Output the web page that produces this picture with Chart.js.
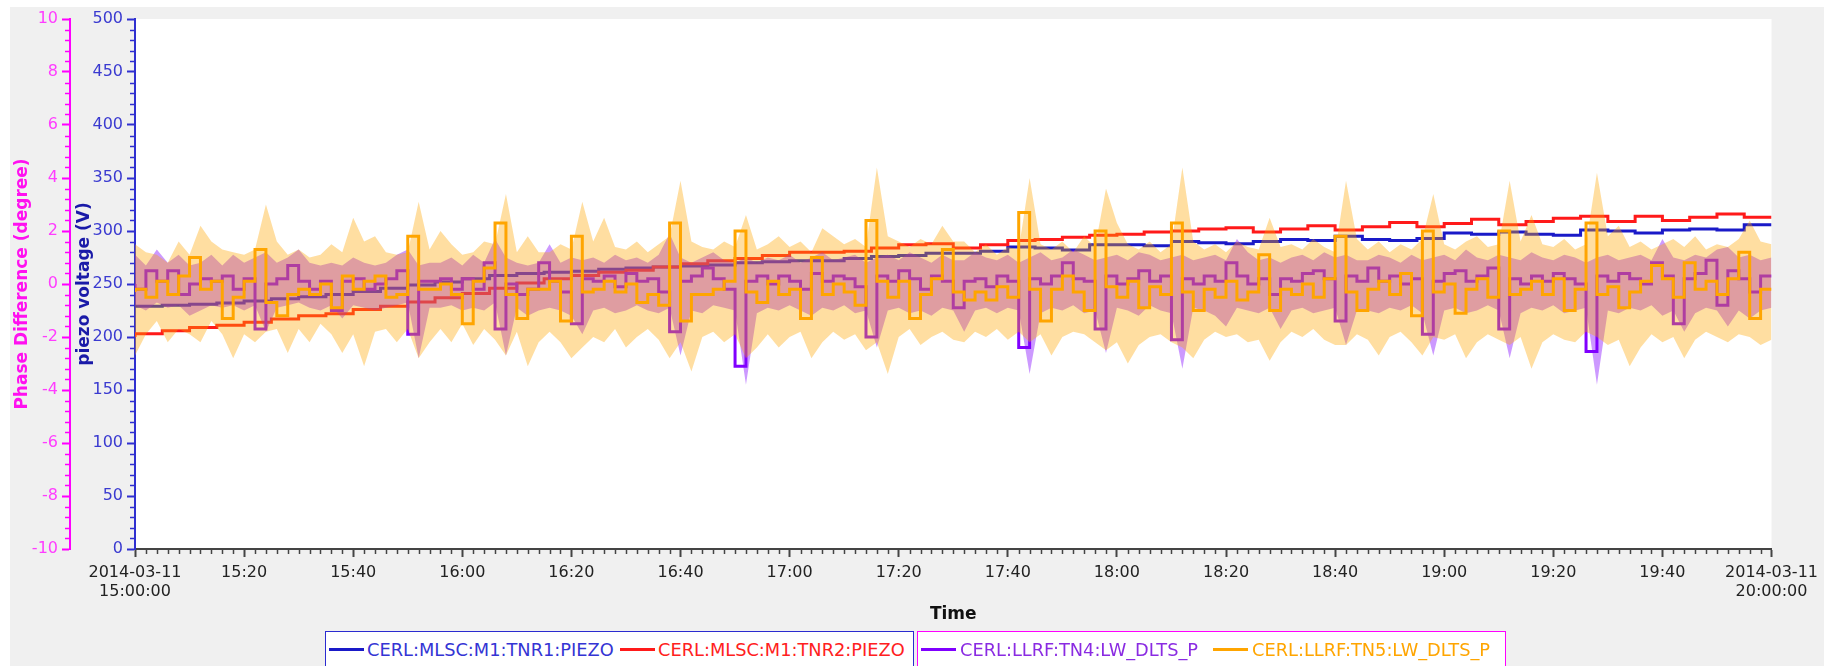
<!DOCTYPE html>
<html>
<head>
<meta charset="utf-8">
<script src="https://cdn.jsdelivr.net/npm/chart.js@4.4.1/dist/chart.umd.min.js"></script>
<style>
  html, body { margin: 0; padding: 0; background: #fff; }
  #wrap { position: relative; width: 1824px; height: 666px; overflow: hidden; }
  #chart { position: absolute; left: 0; top: 0; }
  .lbox { position: absolute; top: 631px; height: 44px; background: #fff; box-sizing: border-box; }
  .swatch { position: absolute; height: 3px; top: 648px; }
  .ltext { position: absolute; top: 639px; line-height: 20px; font: 17.8px 'DejaVu Sans', sans-serif; white-space: nowrap; }
</style>
</head>
<body>
<div id="wrap">
  <canvas id="chart" width="1824" height="666"></canvas>
</div>
<script>
// time axis: minutes after 2014-03-11 15:00:00
const timeTickValues = [0, 20, 40, 60, 80, 100, 120, 140, 160, 180, 200, 220, 240, 260, 280, 300];
const timeTickLabels = [['2014-03-11', '15:00:00'], '15:20', '15:40', '16:00', '16:20', '16:40', '17:00',
  '17:20', '17:40', '18:00', '18:20', '18:40', '19:00', '19:20', '19:40', ['2014-03-11', '20:00:00']];
const voltTicks = [0, 50, 100, 150, 200, 250, 300, 350, 400, 450, 500];
const phaseTicks = [-10, -8, -6, -4, -2, 0, 2, 4, 6, 8, 10];

const seriesNames = ['CERL:MLSC:M1:TNR1:PIEZO', 'CERL:MLSC:M1:TNR2:PIEZO', 'CERL:LLRF:TN4:LW_DLTS_P', 'CERL:LLRF:TN5:LW_DLTS_P'];

// piezo voltage (V), one sample every 5 min
const piezoStepMin = 5;
const tnr1Piezo = [229, 229, 230, 231, 232, 234, 236, 238, 240, 243, 246, 249, 252, 255, 258, 260, 261, 262, 264, 265,
  266, 267, 268, 270, 271, 272, 272, 274, 276, 277, 279, 279, 281, 285, 284, 282, 287, 287, 286, 290,
  289, 288, 290, 292, 291, 295, 292, 291, 293, 298, 297, 299, 297, 296, 301, 300, 298, 301, 302, 301, 306];
const tnr2Piezo = [200, 203, 206, 209, 211, 214, 217, 220, 222, 226, 229, 233, 237, 241, 246, 251, 255, 258, 261, 263,
  266, 269, 272, 274, 277, 280, 280, 281, 284, 287, 288, 284, 287, 291, 292, 294, 296, 297, 299, 300,
  302, 303, 299, 302, 305, 301, 304, 308, 304, 307, 311, 306, 309, 312, 314, 309, 314, 310, 313, 316, 313];

// phase difference (degree), one sample every 2 min: value, max, min
const phaseStepMin = 2;
const tn4Phase = [0.0, -0.2, 0.5, 0.1, 0.5, -0.4, 0.0, 0.2, 0.1, 0.3, -0.2, 0.2, -1.7, 0.0, 0.2, 0.7, 0.1, -0.2, 0.1, -1.0,
  0.1, 0.2, -0.2, 0.0, 0.2, 0.5, -1.9, 0.1, 0.1, 0.2, -0.2, 0.2, -0.2, 0.8, -1.7, 0.0, -0.4, -0.2,
  0.8, 0.1, -0.3, -1.5, 0.2, 0.1, 0.3, -0.1, 0.4, 0.1, 0.2, -0.3, -1.8, 0.1, 0.3, 0.6, 0.2, -0.2, -3.1, 0.1,
  0.3, 0.0, 0.3, 0.1, -0.2, 0.4, 0.1, 0.3, 0.2, -0.1, -2.0, 0.3, 0.1, 0.5, 0.2, -0.2, 0.3, 0.1,
  -0.9, 0.1, 0.2, -0.1, 0.3, 0.1, -2.4, 0.2, 0.0, 0.3, 0.8, 0.2, 0.1, -1.7, 0.3, 0.0, 0.2, 0.5, 0.1, 0.3,
  -2.1, 0.2, 0.0, 0.3, 0.1, 0.8, 0.3, 0.0, 0.2, -0.4, 0.2, 0.1, 0.4, 0.5, 0.2, -1.4, 0.3,
  0.1, 0.6, 0.1, 0.3, 0.0, 0.2, -1.9, 0.1, 0.4, 0.5, 0.1, 0.3, 0.6, -1.7, 0.2, 0.0, 0.3, 0.1, 0.4, 0.2,
  0.0, -2.55, 0.3, 0.1, 0.4, 0.2, 0.0, 0.8, 0.3, -1.5, 0.2, 0.4, 0.9, -0.8, 0.5, 0.2, -0.3, 0.3];
const tn4PhaseMax = [1.1, 0.7, 1.3, 0.8, 1.1, 0.7, 0.8, 1.1, 0.7, 1.1, 0.8, 1.0, 1.2, 0.8, 1.0, 1.3, 0.8, 0.7, 0.8, 0.7,
  1.0, 0.8, 0.7, 0.8, 1.1, 1.3, 0.7, 0.8, 0.8, 1.0, 0.7, 1.1, 0.8, 1.7, 1.0, 0.8, 0.7, 0.8,
  1.5, 0.8, 1.0, 0.9, 1.0, 0.8, 1.1, 0.9, 1.0, 0.8, 1.1, 1.9, 1.0, 0.8, 1.0, 1.2, 0.9, 0.8, 1.0, 0.8,
  1.0, 0.9, 1.1, 0.8, 1.0, 1.2, 0.9, 1.0, 1.1, 0.8, 1.0, 1.1, 0.9, 1.2, 1.0, 0.8, 1.1, 0.9,
  0.9, 1.2, 1.0, 0.9, 1.1, 0.8, 1.0, 1.2, 0.9, 1.0, 1.3, 1.1, 0.9, 1.0, 1.1, 0.9, 1.2, 1.1, 0.9, 1.0,
  1.1, 0.9, 1.0, 1.1, 0.9, 1.7, 1.2, 0.9, 1.0, 0.8, 1.0, 1.1, 0.9, 1.2, 1.0, 1.1, 0.9,
  0.9, 1.1, 1.0, 0.8, 1.1, 0.9, 1.0, 1.1, 0.9, 1.3, 1.0, 0.9, 1.1, 1.0, 0.9, 1.2, 1.0, 0.9, 1.1, 1.0,
  0.8, 1.0, 1.1, 0.9, 1.0, 1.1, 0.9, 1.7, 1.0, 0.9, 1.1, 1.0, 1.3, 1.4, 1.0, 1.1, 0.9, 1.0];
const tn4PhaseMin = [-0.8, -1.0, -0.7, -0.9, -0.8, -1.2, -1.0, -0.8, -0.9, -0.8, -1.0, -0.8, -1.8, -0.9, -0.8, -0.7, -0.9, -1.0, -0.8, -1.3,
  -0.8, -0.9, -1.0, -0.9, -0.8, -0.7, -2.8, -0.9, -0.9, -0.8, -1.0, -0.9, -1.0, -0.7, -2.7, -0.9, -1.2, -1.0,
  -0.9, -1.0, -1.2, -1.9, -1.0, -0.9, -1.1, -1.0, -0.8, -1.0, -1.1, -0.9, -2.7, -1.0, -1.1, -0.8, -0.9, -1.0, -3.8, -1.1,
  -0.9, -1.0, -0.8, -1.0, -1.2, -0.9, -1.0, -0.8, -1.1, -1.0, -2.4, -1.0, -0.9, -1.1, -1.0, -1.2, -0.9, -1.0,
  -1.8, -1.0, -0.9, -1.1, -0.9, -1.0, -3.4, -1.1, -0.9, -1.0, -0.8, -1.1, -1.0, -2.6, -0.9, -1.0, -1.2, -0.8, -1.0, -1.1,
  -3.2, -0.9, -1.0, -1.2, -1.6, -0.9, -1.0, -1.1, -0.9, -1.7, -1.0, -0.9, -1.1, -1.0, -0.9, -2.3, -1.0,
  -1.0, -1.1, -0.9, -1.0, -0.8, -1.1, -2.7, -1.0, -0.9, -1.1, -1.0, -0.8, -1.0, -2.8, -1.1, -0.9, -1.0, -0.8, -1.1, -1.0,
  -0.9, -3.8, -1.0, -1.1, -0.9, -1.0, -0.8, -1.2, -1.0, -1.8, -1.1, -0.9, -1.0, -1.6, -1.0, -1.3, -1.0, -0.9];
const tn5Phase = [-0.3, -0.2, -0.5, 0.1, -0.4, 0.3, 1.0, -0.2, 0.1, -1.3, -0.5, 0.1, 1.3, -0.7, -1.2, -0.4, -0.2, -0.4, 0.0, -0.9,
  0.3, -0.2, 0.1, 0.3, -0.5, -0.4, 1.8, -0.2, -0.2, 0.0, -0.4, -1.5, 0.1, 0.6, 2.3, -0.4, -1.3, -0.2,
  -0.2, 0.1, -1.4, 1.8, -0.3, -0.2, 0.1, -0.3, 0.0, -0.7, -0.4, -0.8, 2.3, -1.4, -0.4, -0.4, -0.2, 0.1, 2.0, -0.3,
  -0.7, 0.1, -0.4, -0.2, -1.3, 1.0, -0.4, 0.0, -0.3, -0.8, 2.4, 0.1, -0.5, 0.1, -1.3, -0.4, 0.2, 1.3,
  -0.3, -0.6, -0.3, -0.6, -0.1, -0.5, 2.7, -0.2, -1.4, -0.2, 0.3, -0.3, -1.0, 2.0, -0.1, -0.5, 0.1, -0.9, -0.1, -0.4,
  2.3, -0.3, -1.0, -0.2, -0.5, 0.1, -0.6, -0.3, 1.1, -1.0, -0.2, -0.4, 0.0, -0.5, 0.2, 1.8, -0.3,
  -1.0, -0.2, 0.1, -0.4, 0.4, -1.2, 2.0, -0.3, 0.0, -1.1, -0.2, 0.2, -0.5, 2.0, -0.4, -0.2, 0.1, -0.4, 0.2, -1.0,
  -0.2, 2.3, -0.4, -0.1, -0.9, -0.3, 0.1, 0.7, 0.2, -0.5, 0.8, -0.2, 0.1, -0.4, 0.2, 1.2, -1.3, -0.2];
const tn5PhaseMax = [1.5, 1.2, 1.1, 0.8, 1.6, 1.1, 2.2, 1.6, 1.3, 1.2, 1.1, 1.3, 3.0, 1.6, 1.1, 1.3, 1.0, 1.1, 1.5, 1.2,
  2.5, 1.6, 1.8, 1.2, 1.1, 1.2, 3.1, 1.3, 2.0, 1.5, 1.1, 1.2, 1.6, 1.5, 3.4, 1.2, 1.8, 1.2,
  1.2, 1.5, 1.3, 3.1, 1.6, 2.5, 1.4, 1.3, 1.6, 1.2, 1.5, 1.8, 3.9, 1.6, 1.4, 1.3, 1.6, 1.4, 2.6, 1.3,
  1.5, 1.8, 1.4, 1.6, 1.2, 2.1, 1.8, 1.5, 1.7, 1.4, 4.4, 1.8, 1.6, 1.4, 1.7, 1.5, 2.2, 1.6,
  1.6, 1.2, 1.5, 1.1, 1.4, 1.3, 4.0, 1.5, 1.3, 1.6, 1.2, 1.8, 1.4, 3.6, 2.3, 1.5, 1.3, 1.6, 1.2, 1.5,
  4.4, 1.6, 1.3, 1.5, 1.2, 1.6, 1.4, 1.3, 2.5, 1.4, 1.5, 1.3, 1.7, 1.4, 1.2, 3.9, 1.7,
  1.3, 1.6, 1.2, 1.5, 1.3, 1.7, 3.4, 1.5, 1.3, 1.6, 1.8, 1.4, 1.5, 3.9, 1.6, 2.6, 1.5, 1.4, 1.7, 1.3,
  1.5, 4.2, 1.8, 2.2, 1.4, 1.6, 1.3, 1.5, 1.7, 1.4, 1.8, 1.3, 1.5, 1.4, 1.7, 2.4, 1.6, 1.5];
const tn5PhaseMin = [-2.7, -1.9, -1.4, -2.2, -1.7, -1.9, -2.2, -1.4, -1.9, -2.8, -1.9, -2.2, -1.8, -1.7, -2.6, -1.7, -2.2, -1.5, -1.9, -2.6,
  -1.9, -3.1, -1.8, -1.7, -2.2, -1.7, -2.8, -2.2, -1.7, -2.2, -1.5, -2.3, -1.7, -2.1, -2.7, -1.8, -3.1, -2.2,
  -1.8, -2.2, -2.8, -2.4, -2.0, -2.2, -1.7, -2.4, -2.0, -1.7, -2.1, -2.8, -2.2, -3.3, -2.0, -1.8, -2.2, -1.9, -2.8, -2.4,
  -1.9, -2.4, -2.0, -1.8, -2.8, -2.2, -1.8, -2.1, -1.9, -2.5, -2.2, -3.4, -2.0, -1.7, -2.3, -2.0, -1.8, -2.1,
  -2.2, -1.8, -2.0, -1.7, -2.1, -1.8, -2.2, -1.9, -2.7, -2.0, -1.8, -1.9, -2.2, -2.5, -2.2, -3.0, -2.3, -2.0, -1.9, -2.2,
  -2.4, -2.8, -2.1, -1.8, -2.0, -1.9, -2.2, -2.1, -2.9, -2.2, -1.8, -2.0, -1.7, -2.1, -2.3, -2.3, -1.9,
  -2.1, -2.7, -2.0, -1.8, -2.2, -2.7, -2.0, -2.1, -1.9, -2.8, -2.2, -1.9, -2.1, -2.3, -2.0, -3.2, -2.2, -1.9, -2.1, -2.2,
  -1.8, -2.0, -2.3, -2.1, -3.1, -2.4, -1.9, -2.2, -2.0, -2.8, -2.1, -1.8, -2.0, -2.2, -1.9, -2.0, -2.3, -2.1];

function toPoints(values, step) {
  return values.map((v, i) => ({ x: i * step, y: v }));
}

const FONT = "'DejaVu Sans', sans-serif";
const BLUE = '#1a1ac8', RED = '#ff1a1a', PURPLE = '#8000ff', ORANGE = '#ffa500', MAGENTA = '#ff00ff';

// white frame, grey panel, white plot area, and the small minor ticks
const framePlugin = {
  id: 'frame',
  beforeDraw(chart) {
    const { ctx, chartArea: a } = chart;
    ctx.save();
    ctx.fillStyle = '#ffffff';
    ctx.fillRect(0, 0, chart.width, chart.height);
    ctx.fillStyle = '#f0f0f0';
    ctx.fillRect(10, 7, chart.width - 10, chart.height - 7);
    ctx.fillStyle = '#ffffff';
    ctx.fillRect(a.left, a.top, a.right - a.left, a.bottom - a.top);
    ctx.restore();
  },
  afterDraw(chart) {
    const ctx = chart.ctx;
    const sx = chart.scales.x, sv = chart.scales.yVolt, sp = chart.scales.yPhase;
    ctx.save();
    ctx.lineWidth = 1.5;
    ctx.strokeStyle = '#444444';
    ctx.beginPath();
    for (let i = 0; i <= 150; i++) {
      if (i % 10 === 0) continue;
      const px = Math.round(sx.getPixelForValue(i * 2)) + 0.5;
      ctx.moveTo(px, sx.top); ctx.lineTo(px, sx.top + 5);
    }
    ctx.stroke();
    ctx.strokeStyle = '#3030d0';
    ctx.beginPath();
    for (let i = 0; i <= 50; i++) {
      if (i % 5 === 0) continue;
      const py = Math.round(sv.getPixelForValue(i * 10)) + 0.5;
      ctx.moveTo(sv.right - 5, py); ctx.lineTo(sv.right, py);
    }
    ctx.stroke();
    ctx.strokeStyle = MAGENTA;
    ctx.beginPath();
    for (let i = 0; i <= 50; i++) {
      if (i % 5 === 0) continue;
      const py = Math.round(sp.getPixelForValue(-10 + i * 0.4)) + 0.5;
      ctx.moveTo(sp.right - 5, py); ctx.lineTo(sp.right, py);
    }
    ctx.stroke();
    ctx.restore();
  }
};

const ctx = document.getElementById('chart').getContext('2d');
new Chart(ctx, {
  type: 'line',
  data: {
    datasets: [
      { label: seriesNames[0], data: toPoints(tnr1Piezo, piezoStepMin), yAxisID: 'yVolt', borderColor: BLUE,
        borderWidth: 3, stepped: 'after', pointRadius: 0, fill: false, order: 7 },
      { label: seriesNames[1], data: toPoints(tnr2Piezo, piezoStepMin), yAxisID: 'yVolt', borderColor: RED,
        borderWidth: 3, stepped: 'after', pointRadius: 0, fill: false, order: 6 },
      { label: 'tn4 max', data: toPoints(tn4PhaseMax, phaseStepMin), yAxisID: 'yPhase', borderColor: 'transparent',
        borderWidth: 0, pointRadius: 0, fill: '+1', backgroundColor: 'rgba(128,0,255,0.4)', order: 4 },
      { label: 'tn4 min', data: toPoints(tn4PhaseMin, phaseStepMin), yAxisID: 'yPhase', borderColor: 'transparent',
        borderWidth: 0, pointRadius: 0, fill: false, order: 5 },
      { label: seriesNames[2], data: toPoints(tn4Phase, phaseStepMin), yAxisID: 'yPhase', borderColor: PURPLE,
        borderWidth: 3, stepped: 'after', pointRadius: 0, fill: false, order: 3 },
      { label: 'tn5 max', data: toPoints(tn5PhaseMax, phaseStepMin), yAxisID: 'yPhase', borderColor: 'transparent',
        borderWidth: 0, pointRadius: 0, fill: '+1', backgroundColor: 'rgba(255,165,0,0.37)', order: 1 },
      { label: 'tn5 min', data: toPoints(tn5PhaseMin, phaseStepMin), yAxisID: 'yPhase', borderColor: 'transparent',
        borderWidth: 0, pointRadius: 0, fill: false, order: 2 },
      { label: seriesNames[3], data: toPoints(tn5Phase, phaseStepMin), yAxisID: 'yPhase', borderColor: ORANGE,
        borderWidth: 3, stepped: 'after', pointRadius: 0, fill: false, order: 0 }
    ]
  },
  options: {
    responsive: false,
    animation: false,
    devicePixelRatio: 1,
    layout: { padding: { left: 0, top: 19, right: 49, bottom: 37 } },
    plugins: { legend: { display: false }, tooltip: { enabled: false } },
    scales: {
      x: {
        type: 'linear', min: 0, max: 300,
        afterBuildTicks: s => { s.ticks = timeTickValues.map(v => ({ value: v })); },
        afterFit: s => { s.height = 80; },
        grid: { drawOnChartArea: false, tickLength: 8, tickColor: '#444444', tickWidth: 2 },
        border: { color: '#444444', width: 2 },
        ticks: {
          autoSkip: false, maxRotation: 0, minRotation: 0, padding: 6,
          color: '#222222', font: { family: FONT, size: 16 },
          callback: (v, i) => timeTickLabels[i]
        },
        title: { display: true, text: 'Time', color: '#111111', padding: { top: 0, bottom: 4 },
          font: { family: FONT, size: 17, weight: 'bold' } }
      },
      yPhase: {
        type: 'linear', position: 'left', weight: 1, min: -10, max: 10,
        afterBuildTicks: s => { s.ticks = phaseTicks.map(v => ({ value: v })); },
        afterFit: s => { s.width = 70; },
        grid: { drawOnChartArea: false, tickLength: 8, tickColor: MAGENTA, tickWidth: 2 },
        border: { color: MAGENTA, width: 2 },
        ticks: { padding: 4, color: '#ff3cff', font: { family: FONT, size: 16 }, callback: v => String(v) },
        title: { display: true, text: 'Phase Difference (degree)', color: '#ff10f0', padding: { top: 12, bottom: 0 },
          font: { family: FONT, size: 17, weight: 'bold' } }
      },
      yVolt: {
        type: 'linear', position: 'left', weight: 0, min: 0, max: 500,
        afterBuildTicks: s => { s.ticks = voltTicks.map(v => ({ value: v })); },
        afterFit: s => { s.width = 65; },
        grid: { drawOnChartArea: false, tickLength: 8, tickColor: '#3030d0', tickWidth: 2 },
        border: { color: '#3030d0', width: 2 },
        ticks: { padding: 4, color: '#3a3ad0', font: { family: FONT, size: 16 }, callback: v => String(v) },
        title: { display: true, text: 'piezo voltage (V)', color: '#1a1aa8', padding: { top: 4, bottom: 0 },
          font: { family: FONT, size: 17, weight: 'bold' } }
      }
    }
  },
  plugins: [framePlugin]
});

// legend below the chart, two framed groups
const wrap = document.getElementById('wrap');
const legendGroups = [
  { left: 325, width: 589, border: '#2b2bd0', items: [0, 1] },
  { left: 917, width: 589, border: MAGENTA, items: [2, 3] }
];
const legendLineColors = [BLUE, RED, PURPLE, ORANGE];
const legendTextColors = ['#3434d4', '#ff2020', '#8a2be2', '#ffa500'];
const legendSwatchLeft = [329, 620, 921, 1213];
const legendTextLeft = [367, 658, 960, 1252];
legendGroups.forEach(g => {
  const box = document.createElement('div');
  box.className = 'lbox';
  box.style.left = g.left + 'px';
  box.style.width = g.width + 'px';
  box.style.border = '1.5px solid ' + g.border;
  wrap.appendChild(box);
  g.items.forEach(k => {
    const sw = document.createElement('div');
    sw.className = 'swatch';
    sw.style.left = legendSwatchLeft[k] + 'px';
    sw.style.width = '35px';
    sw.style.background = legendLineColors[k];
    wrap.appendChild(sw);
    const tx = document.createElement('div');
    tx.className = 'ltext';
    tx.style.left = legendTextLeft[k] + 'px';
    tx.style.color = legendTextColors[k];
    tx.textContent = seriesNames[k];
    wrap.appendChild(tx);
  });
});
</script>
</body>
</html>
